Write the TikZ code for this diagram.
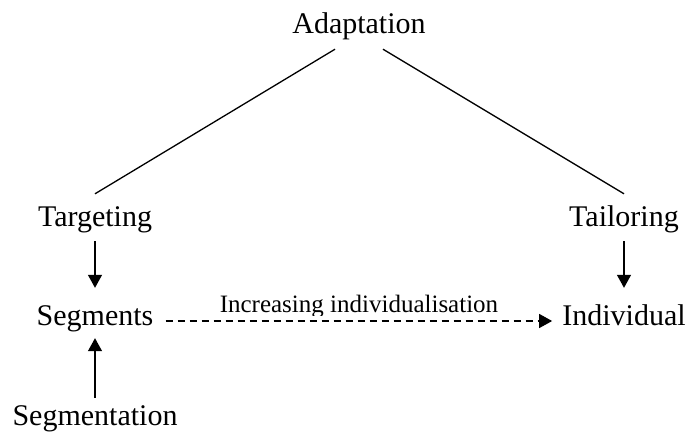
\documentclass[tikz,border=0pt]{standalone}
\usepackage{fontspec}
\setmainfont{Liberation Serif}
\usetikzlibrary{arrows.meta}
\begin{document}
\begin{tikzpicture}[x=1pt,y=1pt,
  lbl/.style={font=\fontsize{30}{35}\selectfont, inner sep=0pt, anchor=base, text height=20pt, text depth=6pt},
  small/.style={font=\fontsize{25}{29}\selectfont, inner sep=0pt, anchor=base},
  conn/.style={line width=1.3pt},
  arr/.style={line width=1.3pt, -{Triangle[length=13pt,width=14pt]}},
  dasharr/.style={line width=1.3pt, dash pattern=on 7pt off 5pt, -{Triangle[length=13pt,width=14pt]}}]
\useasboundingbox (0,0) rectangle (686,-432);
\node[lbl] (A) at (359,-33) {Adaptation};
\node[lbl] (T) at (95,-226) {Targeting};
\node[lbl] (L) at (624,-226) {Tailoring};
\node[lbl] (S) at (95,-325) {Segments};
\node[lbl] (I) at (624,-325) {Individual};
\node[lbl] (G) at (95,-425) {Segmentation};
\begin{scope}
\clip (0,0) rectangle (686,-315);
\node[small] (lab) at (359,-312) {Increasing individualisation};
\end{scope}
\draw[conn] ([xshift=-24pt,yshift=-10pt]A.south) -- ([yshift=12pt]T.north);
\draw[conn] ([xshift=24pt,yshift=-10pt]A.south) -- ([yshift=12pt]L.north);
\draw[arr] ([yshift=-9pt]T.south) -- ([yshift=17pt]S.north);
\draw[arr] ([yshift=-9pt]L.south) -- ([yshift=17pt]I.north);
\draw[arr] ([yshift=7pt]G.north) -- ([yshift=-7pt]S.south);
\draw[dasharr] ([xshift=12pt,yshift=4pt]S.base east) -- ([xshift=-10pt,yshift=4pt]I.base west);
\end{tikzpicture}
\end{document}
